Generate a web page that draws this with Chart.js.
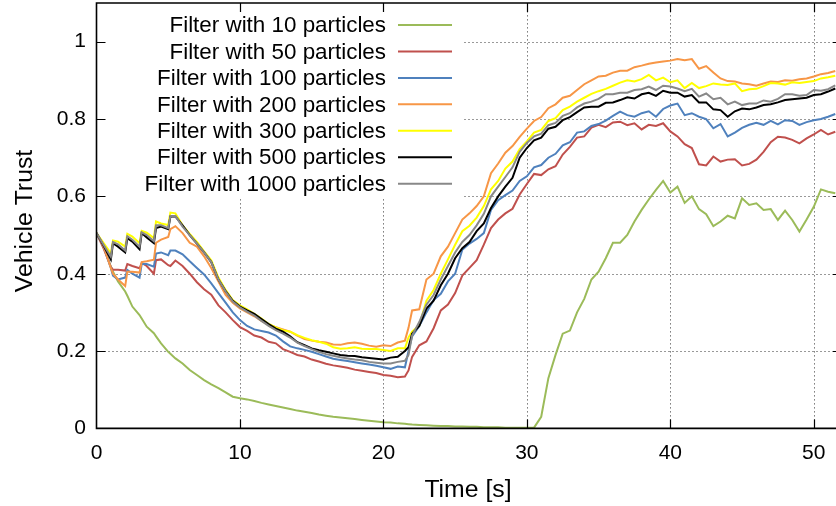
<!DOCTYPE html>
<html>
<head>
<meta charset="utf-8">
<script src="https://cdn.jsdelivr.net/npm/chart.js@4/dist/chart.umd.min.js"></script>
<style>
  html, body { margin: 0; padding: 0; background: #fff; overflow: hidden; }
  #wrap { width: 836px; height: 506px; position: relative; }
</style>
</head>
<body>
<div id="wrap"><canvas id="chart" width="836" height="506"></canvas></div>
<script>
// Sample times [s]
const times = [
  0, 0.5, 1, 1.15, 1.5, 2, 2.15, 2.5, 3, 3.15, 3.5, 4, 4.15, 4.5, 5, 5.15, 5.5, 6,
  6.5, 7, 7.5, 8, 8.5, 9, 9.5, 10, 10.5, 11, 11.5, 12, 12.5, 13, 13.5, 14, 14.5, 15,
  15.5, 16, 16.5, 17, 17.5, 18, 18.5, 19, 19.5, 20, 20.5, 21, 21.5,
  21.75,
  22, 22.5, 23, 23.5, 24, 24.5, 25, 25.5, 26, 26.5, 27, 27.5, 28, 28.5, 29, 29.5,
  30, 30.5, 31, 31.5, 32, 32.5, 33, 33.5, 34, 34.5, 35, 35.5, 36, 36.5, 37, 37.5,
  38, 38.5, 39, 39.5, 40, 40.5, 41, 41.5, 42, 42.5, 43, 43.5, 44, 44.5, 45, 45.5,
  46, 46.5, 47, 47.5, 48, 48.5, 49, 49.5, 50, 50.5, 51, 51.5
];

// Vehicle trust estimated by each filter size
const trust10 = [
  0.505, 0.470, 0.418, 0.405, 0.380, 0.354, 0.343, 0.315, 0.293, 0.284, 0.263, 0.246, 0.238, 0.220, 0.198, 0.193, 0.181, 0.168,
  0.151, 0.138, 0.125, 0.114, 0.104, 0.093, 0.082, 0.078, 0.075, 0.071, 0.066, 0.062, 0.058, 0.054, 0.050, 0.046, 0.043, 0.040,
  0.036, 0.033, 0.030, 0.028, 0.026, 0.024, 0.022, 0.020, 0.018, 0.016, 0.015, 0.013, 0.012,
  0.011,
  0.010, 0.009, 0.008, 0.007, 0.006, 0.006, 0.005, 0.005, 0.004, 0.004,
  0.003, 0.003, 0.003, 0.002, 0.002, 0.002, 0.002, 0.002, 0.030, 0.130,
  0.190, 0.245, 0.253, 0.300, 0.335, 0.385, 0.405, 0.440, 0.480, 0.480,
  0.500, 0.535, 0.565, 0.592, 0.617, 0.640, 0.610, 0.625, 0.583, 0.600,
  0.567, 0.554, 0.523, 0.535, 0.550, 0.543, 0.595, 0.578, 0.582, 0.565,
  0.567, 0.539, 0.563, 0.539, 0.509, 0.540, 0.573, 0.618, 0.612, 0.608
];
const trust50 = [
  0.505, 0.465, 0.418, 0.410, 0.410, 0.408, 0.425, 0.420, 0.414, 0.428, 0.420, 0.400, 0.435, 0.437, 0.422, 0.420, 0.434, 0.420,
  0.400, 0.378, 0.360, 0.346, 0.318, 0.300, 0.280, 0.262, 0.252, 0.240, 0.235, 0.224, 0.220, 0.205, 0.198, 0.190, 0.186, 0.178,
  0.173, 0.167, 0.163, 0.160, 0.157, 0.152, 0.149, 0.146, 0.143, 0.138, 0.136, 0.132, 0.134,
  0.150,
  0.185, 0.215, 0.225, 0.259, 0.305, 0.320, 0.350, 0.395, 0.415, 0.435,
  0.475, 0.518, 0.540, 0.556, 0.568, 0.605, 0.632, 0.658, 0.655, 0.670,
  0.678, 0.708, 0.728, 0.752, 0.755, 0.778, 0.785, 0.779, 0.791, 0.793,
  0.784, 0.789, 0.773, 0.785, 0.782, 0.789, 0.768, 0.755, 0.735, 0.725,
  0.683, 0.680, 0.703, 0.690, 0.695, 0.696, 0.680, 0.684, 0.695, 0.715,
  0.740, 0.754, 0.752, 0.746, 0.737, 0.750, 0.760, 0.772, 0.760, 0.767
];
const trust100 = [
  0.505, 0.470, 0.415, 0.395, 0.385, 0.390, 0.410, 0.400, 0.390, 0.425, 0.425, 0.418, 0.452, 0.455, 0.448, 0.460, 0.460, 0.450,
  0.432, 0.415, 0.398, 0.375, 0.350, 0.325, 0.300, 0.280, 0.265, 0.256, 0.252, 0.248, 0.240, 0.225, 0.212, 0.207, 0.203, 0.198,
  0.192, 0.186, 0.180, 0.177, 0.174, 0.171, 0.168, 0.165, 0.162, 0.158, 0.154, 0.160, 0.158,
  0.200,
  0.238, 0.265, 0.300, 0.332, 0.348, 0.380, 0.400, 0.462, 0.478, 0.490,
  0.505, 0.565, 0.590, 0.603, 0.615, 0.640, 0.652, 0.675, 0.681, 0.700,
  0.710, 0.732, 0.740, 0.765, 0.768, 0.782, 0.787, 0.796, 0.808, 0.819,
  0.810, 0.806, 0.815, 0.820, 0.806, 0.826, 0.835, 0.840, 0.810, 0.815,
  0.806, 0.800, 0.776, 0.787, 0.755, 0.765, 0.777, 0.785, 0.790, 0.785,
  0.795, 0.786, 0.797, 0.795, 0.785, 0.792, 0.797, 0.800, 0.806, 0.813
];
const trust200 = [
  0.505, 0.470, 0.415, 0.400, 0.385, 0.368, 0.405, 0.405, 0.403, 0.430, 0.432, 0.436, 0.480, 0.488, 0.495, 0.515, 0.523, 0.505,
  0.480, 0.470, 0.445, 0.415, 0.380, 0.345, 0.325, 0.310, 0.300, 0.290, 0.278, 0.268, 0.262, 0.256, 0.250, 0.240, 0.231, 0.227,
  0.224, 0.222, 0.217, 0.216, 0.220, 0.222, 0.219, 0.214, 0.211, 0.215, 0.213, 0.222, 0.227,
  0.260,
  0.305, 0.308, 0.385, 0.400, 0.445, 0.470, 0.505, 0.540, 0.556, 0.575,
  0.600, 0.660, 0.685, 0.713, 0.730, 0.754, 0.775, 0.795, 0.805, 0.828,
  0.838, 0.855, 0.860, 0.875, 0.890, 0.900, 0.910, 0.912, 0.920, 0.925,
  0.925, 0.934, 0.938, 0.943, 0.946, 0.949, 0.951, 0.955, 0.952, 0.955,
  0.930, 0.937, 0.920, 0.905, 0.898, 0.897, 0.892, 0.890, 0.886, 0.892,
  0.897, 0.896, 0.900, 0.899, 0.903, 0.905, 0.910, 0.916, 0.919, 0.924
];
const trust300 = [
  0.505, 0.479, 0.453, 0.486, 0.483, 0.470, 0.503, 0.496, 0.479, 0.511, 0.506, 0.492, 0.535, 0.530, 0.526, 0.558, 0.556, 0.525,
  0.503, 0.482, 0.458, 0.435, 0.390, 0.358, 0.332, 0.318, 0.308, 0.296, 0.284, 0.270, 0.261, 0.254, 0.250, 0.241, 0.234, 0.228,
  0.224, 0.219, 0.210, 0.206, 0.207, 0.210, 0.206, 0.205, 0.205, 0.203, 0.200, 0.207, 0.207,
  0.235,
  0.250, 0.267, 0.330, 0.358, 0.400, 0.437, 0.475, 0.510, 0.524, 0.545,
  0.575, 0.618, 0.640, 0.672, 0.690, 0.722, 0.742, 0.765, 0.772, 0.795,
  0.802, 0.823, 0.832, 0.845, 0.855, 0.865, 0.872, 0.878, 0.886, 0.894,
  0.900, 0.897, 0.903, 0.914, 0.900, 0.907, 0.895, 0.900, 0.880, 0.893,
  0.880, 0.885, 0.892, 0.889, 0.888, 0.892, 0.872, 0.877, 0.878, 0.885,
  0.893, 0.892, 0.889, 0.895, 0.893, 0.896, 0.898, 0.905, 0.908, 0.912
];
const trust500 = [
  0.505, 0.472, 0.437, 0.479, 0.470, 0.455, 0.492, 0.483, 0.463, 0.505, 0.494, 0.479, 0.518, 0.522, 0.515, 0.548, 0.548, 0.525,
  0.500, 0.478, 0.455, 0.430, 0.385, 0.355, 0.330, 0.315, 0.305, 0.296, 0.283, 0.270, 0.258, 0.250, 0.238, 0.223, 0.215, 0.207,
  0.202, 0.198, 0.194, 0.190, 0.188, 0.187, 0.184, 0.182, 0.180, 0.178, 0.183, 0.185, 0.200,
  0.210,
  0.245, 0.265, 0.310, 0.330, 0.370, 0.400, 0.440, 0.466, 0.482, 0.510,
  0.530, 0.570, 0.600, 0.625, 0.648, 0.700, 0.725, 0.745, 0.752, 0.775,
  0.780, 0.797, 0.805, 0.818, 0.830, 0.832, 0.832, 0.842, 0.843, 0.849,
  0.856, 0.853, 0.864, 0.868, 0.860, 0.873, 0.868, 0.868, 0.858, 0.862,
  0.843, 0.843, 0.825, 0.823, 0.806, 0.820, 0.827, 0.825, 0.830, 0.836,
  0.838, 0.843, 0.849, 0.851, 0.853, 0.855, 0.862, 0.864, 0.871, 0.879
];
const trust1000 = [
  0.505, 0.474, 0.444, 0.482, 0.476, 0.460, 0.497, 0.488, 0.470, 0.507, 0.500, 0.484, 0.525, 0.525, 0.518, 0.549, 0.549, 0.522,
  0.500, 0.478, 0.455, 0.430, 0.385, 0.354, 0.328, 0.313, 0.302, 0.292, 0.278, 0.265, 0.254, 0.245, 0.235, 0.222, 0.213, 0.205,
  0.198, 0.192, 0.188, 0.184, 0.181, 0.178, 0.176, 0.172, 0.170, 0.168, 0.168, 0.172, 0.175,
  0.190,
  0.240, 0.275, 0.320, 0.345, 0.385, 0.420, 0.455, 0.482, 0.500, 0.525,
  0.555, 0.600, 0.625, 0.650, 0.675, 0.715, 0.738, 0.755, 0.762, 0.784,
  0.790, 0.808, 0.815, 0.830, 0.840, 0.845, 0.852, 0.864, 0.864, 0.868,
  0.868, 0.875, 0.877, 0.884, 0.875, 0.886, 0.884, 0.879, 0.872, 0.878,
  0.858, 0.866, 0.851, 0.855, 0.838, 0.845, 0.836, 0.840, 0.840, 0.848,
  0.845, 0.852, 0.864, 0.864, 0.860, 0.862, 0.875, 0.873, 0.877, 0.887
];

const seriesLabels = [
  'Filter with 10 particles', 'Filter with 50 particles', 'Filter with 100 particles',
  'Filter with 200 particles', 'Filter with 300 particles', 'Filter with 500 particles',
  'Filter with 1000 particles'
];
const seriesValues = [trust10, trust50, trust100, trust200, trust300, trust500, trust1000];
const seriesColors = ['#9bbb59', '#c0504d', '#4f81bd', '#f79646', '#ffff00', '#000000', '#888888'];

const xTickValues = [0, 10, 20, 30, 40, 50];
const yTickValues = [0, 0.2, 0.4, 0.6, 0.8, 1];
const yTickLabels = ['0', '0.2', '0.4', '0.6', '0.8', '1'];
const xAxisTitle = 'Time [s]';
const yAxisTitle = 'Vehicle Trust';

const FONT = "'Liberation Sans', Arial, Helvetica, sans-serif";

// Dotted grid, opaque key box, border, inward ticks and axis titles (gnuplot style)
const framePlugin = {
  id: 'frame',
  beforeDatasetsDraw(chart) {
    const { ctx, chartArea: a, scales: { x, y } } = chart;
    ctx.save();
    ctx.strokeStyle = '#333';
    ctx.lineWidth = 1;
    ctx.setLineDash([1, 3]);
    xTickValues.forEach(v => {
      if (v === 0) return;
      const px = Math.round(x.getPixelForValue(v)) + 0.5;
      ctx.beginPath(); ctx.moveTo(px, a.bottom); ctx.lineTo(px, a.top); ctx.stroke();
    });
    yTickValues.forEach(v => {
      if (v === 0) return;
      const py = Math.round(y.getPixelForValue(v)) + 0.5;
      ctx.beginPath(); ctx.moveTo(a.left, py); ctx.lineTo(a.right, py); ctx.stroke();
    });
    ctx.restore();
  },
  afterDatasetsDraw(chart) {
    const { ctx, chartArea: a, scales: { x, y } } = chart;
    ctx.save();
    // key
    ctx.fillStyle = '#fff';
    ctx.fillRect(a.left + 1, a.top + 1, 462 - a.left, 197 - a.top);
    ctx.font = "22.4px " + FONT;
    ctx.textAlign = 'right';
    ctx.textBaseline = 'middle';
    chart.data.datasets.forEach((ds, i) => {
      const rowY = 25 + i * 26.45;
      ctx.fillStyle = '#000';
      ctx.fillText(ds.label, 386, rowY + 1);
      ctx.strokeStyle = ds.borderColor;
      ctx.lineWidth = 2;
      ctx.beginPath(); ctx.moveTo(398, rowY); ctx.lineTo(452, rowY); ctx.stroke();
    });
    // border
    ctx.strokeStyle = '#000';
    ctx.lineWidth = 1.6;
    ctx.beginPath();
    ctx.moveTo(a.right + 2, a.top); ctx.lineTo(a.left, a.top);
    ctx.lineTo(a.left, a.bottom); ctx.lineTo(a.right + 2, a.bottom);
    ctx.stroke();
    // inward ticks
    const tl = 9;
    ctx.lineWidth = 1.2;
    xTickValues.forEach(v => {
      if (v === 0) return;
      const px = Math.round(x.getPixelForValue(v)) + 0.5;
      ctx.beginPath();
      ctx.moveTo(px, a.bottom); ctx.lineTo(px, a.bottom - tl);
      ctx.moveTo(px, a.top); ctx.lineTo(px, a.top + tl);
      ctx.stroke();
    });
    yTickValues.forEach(v => {
      if (v === 0) return;
      const py = Math.round(y.getPixelForValue(v)) + 0.5;
      ctx.beginPath();
      ctx.moveTo(a.left, py); ctx.lineTo(a.left + tl, py);
      ctx.moveTo(a.right + 6, py); ctx.lineTo(a.right + 6 - tl, py);
      ctx.stroke();
    });
    // axis titles
    ctx.fillStyle = '#000';
    ctx.font = "24.8px " + FONT;
    ctx.textAlign = 'center';
    ctx.textBaseline = 'middle';
    ctx.fillText(xAxisTitle, 468, 490);
    ctx.translate(25, 221);
    ctx.rotate(-Math.PI / 2);
    ctx.fillText(yAxisTitle, 0, 0);
    ctx.restore();
  }
};

const datasets = seriesValues.map((vals, i) => ({
  label: seriesLabels[i],
  data: times.map((t, j) => ({ x: t, y: vals[j] })),
  borderColor: seriesColors[i],
  backgroundColor: seriesColors[i],
  borderWidth: 2,
  pointRadius: 0,
  tension: 0,
  fill: false,
  order: seriesValues.length - 1 - i
}));

new Chart(document.getElementById('chart'), {
  type: 'line',
  data: { datasets },
  plugins: [framePlugin],
  options: {
    responsive: false,
    animation: false,
    devicePixelRatio: 1,
    layout: { padding: { top: 3, left: 0, right: 0, bottom: 0 } },
    plugins: { legend: { display: false }, tooltip: { enabled: false } },
    scales: {
      x: {
        type: 'linear',
        min: 0,
        max: 51.55,
        afterBuildTicks: s => { s.ticks = xTickValues.map(v => ({ value: v })); },
        afterFit: s => { s.height = 77.6; s.paddingLeft = 0; s.paddingRight = 0; },
        grid: { display: false, drawTicks: false },
        border: { display: false },
        ticks: {
          autoSkip: false, maxRotation: 0, padding: 12, color: '#000',
          font: { family: FONT, size: 21 },
          callback: v => String(v)
        }
      },
      y: {
        type: 'linear',
        min: 0,
        max: 1.1,
        afterBuildTicks: s => { s.ticks = yTickValues.map(v => ({ value: v })); },
        afterFit: s => { s.width = 96.5; s.paddingTop = 0; s.paddingBottom = 0; },
        grid: { display: false, drawTicks: false },
        border: { display: false },
        ticks: {
          autoSkip: false, padding: 10.5, color: '#000',
          font: { family: FONT, size: 21 },
          callback: v => yTickLabels[yTickValues.indexOf(v)]
        }
      }
    }
  }
});
</script>
</body>
</html>
